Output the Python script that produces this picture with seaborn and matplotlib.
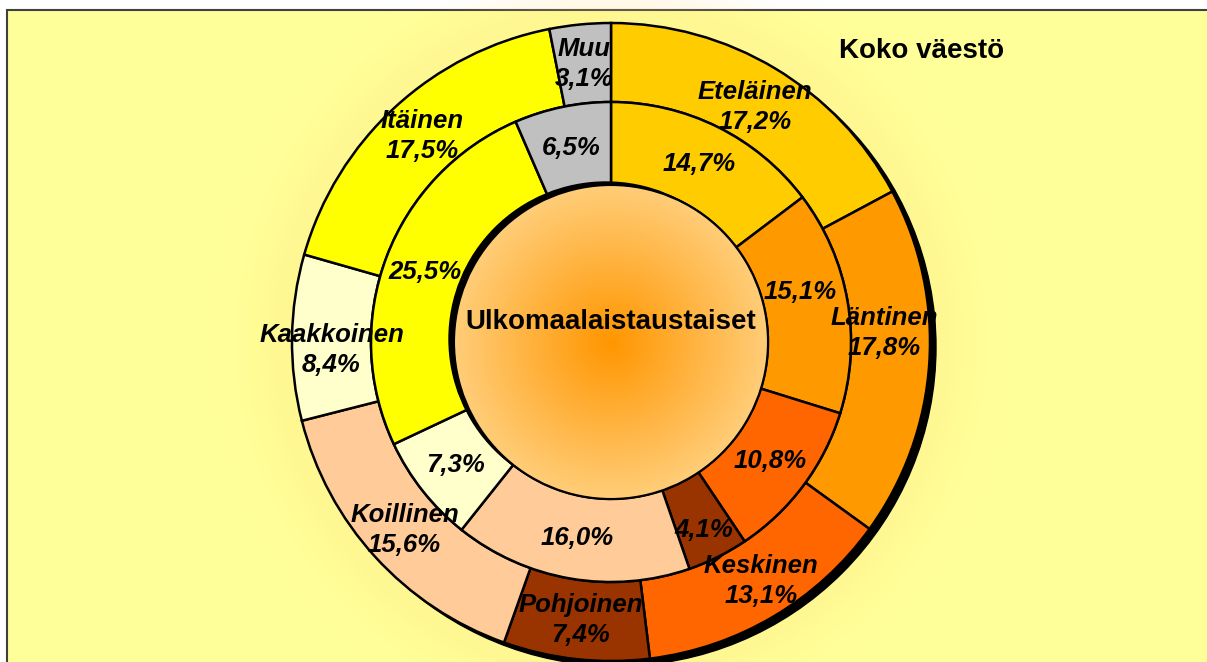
import numpy as np
import matplotlib.pyplot as plt
import matplotlib.patches as mpatches
import seaborn as sns

# data
regions = ["Eteläinen", "Läntinen", "Keskinen", "Pohjoinen",
           "Koillinen", "Kaakkoinen", "Itäinen", "Muu"]
koko_vaesto = [17.2, 17.8, 13.1, 7.4, 15.6, 8.4, 17.5, 3.1]
ulkomaalais = [14.7, 15.1, 10.8, 4.1, 16.0, 7.3, 25.5, 6.5]
region_colors = ["#FFCC00", "#FF9900", "#FF6600", "#993300",
                 "#FFCC99", "#FFFFCC", "#FFFF00", "#C0C0C0"]

sns.set_style("white")
plt.rcParams["font.family"] = ["Liberation Sans", "DejaVu Sans"]
plt.rcParams["text.color"] = "black"
palette = sns.color_palette(region_colors)

W, H = 1207, 662
fig = plt.figure(figsize=(W / 100, H / 100), dpi=100)
ax = fig.add_axes([0, 0, 1, 1])

cx, cy = 611, H - 342
r_out, r_mid, r_in = 319, 240, 157

# small label nudges (pixels) as placed in the original
outer_nudge = {"Läntinen": (-6, 28), "Kaakkoinen": (0, -12), "Keskinen": (8, 2),
               "Eteläinen": (0, -5)}
inner_nudge = {"Läntinen": (-6, 16), "Pohjoinen": (4, -10)}


def pct(v):
    return f"{v:.1f}".replace(".", ",") + "%"


# shadow under outer ring
ax.add_patch(mpatches.Circle((cx + 6, cy - 5), r_out, color="black", zorder=1))

wedge_kw = dict(edgecolor="black", linewidth=1.8)
outer, _ = ax.pie(koko_vaesto, colors=palette, startangle=90, counterclock=False,
                  radius=r_out, center=(cx, cy),
                  wedgeprops=dict(width=r_out - r_mid, **wedge_kw))
inner, _ = ax.pie(ulkomaalais, colors=palette, startangle=90, counterclock=False,
                  radius=r_mid, center=(cx, cy),
                  wedgeprops=dict(width=r_mid - r_in, **wedge_kw))
for w in outer + inner:
    w.set_zorder(2)

# centre disc with radial gradient and shadow
ax.add_patch(mpatches.Circle((cx - 5, cy + 3), r_in, color="black", zorder=3))
disc = mpatches.Circle((cx, cy), r_in, facecolor="none", edgecolor="black",
                       linewidth=1.5, zorder=5)
ax.add_patch(disc)
n = 300
gx, gy = np.meshgrid(np.linspace(-1, 1, n), np.linspace(-1, 1, n))
t = np.clip(np.hypot(gx, gy), 0, 1)
c0 = np.array([255, 150, 0]) / 255
c1 = np.array([255, 205, 120]) / 255
grad = c0[None, None, :] * (1 - t[..., None]) + c1[None, None, :] * t[..., None]
im = ax.imshow(grad, extent=(cx - r_in, cx + r_in, cy - r_in, cy + r_in),
               origin="lower", zorder=4, interpolation="bilinear")
im.set_clip_path(disc)

# soft halo round the pie
hx, hy = np.meshgrid(np.arange(W), np.arange(H))
rr = np.hypot(hx - cx, hy - cy)
alpha = np.where(rr > r_out - 5, 0.2 * np.exp(-((rr - r_out) / 40.0) ** 2), 0)
halo = np.zeros((H, W, 4))
halo[..., 0], halo[..., 1], halo[..., 2] = 1.0, 0.85, 0.45
halo[..., 3] = alpha
ax.imshow(halo, extent=(0, W, 0, H), origin="lower", zorder=0.5)

# frame
ax.add_patch(mpatches.Rectangle((7, -20), W + 20, H - 10 + 20, facecolor="#FFFF99",
                                edgecolor="#404040", linewidth=1.5, zorder=0))

lab_kw = dict(ha="center", va="center", fontsize=18.5, fontweight="bold",
              fontstyle="italic", zorder=6, linespacing=1.32, color="black")
r_lab_out = (r_out + r_mid) / 2
for w, name, v in zip(outer, regions, koko_vaesto):
    a = np.deg2rad((w.theta1 + w.theta2) / 2)
    dx, dy = outer_nudge.get(name, (0, 0))
    ax.text(cx + r_lab_out * np.cos(a) + dx, cy + r_lab_out * np.sin(a) + dy,
            f"{name}\n{pct(v)}", **lab_kw)
r_lab_in = (r_mid + r_in) / 2
for w, name, v in zip(inner, regions, ulkomaalais):
    a = np.deg2rad((w.theta1 + w.theta2) / 2)
    dx, dy = inner_nudge.get(name, (0, 0))
    ax.text(cx + r_lab_in * np.cos(a) + dx, cy + r_lab_in * np.sin(a) + dy,
            pct(v), **lab_kw)

ax.text(cx, cy + 20, "Ulkomaalaistaustaiset", ha="center", va="center",
        fontsize=20, fontweight="bold", zorder=6, color="black")
ax.text(922, H - 51, "Koko väestö", ha="center", va="center",
        fontsize=20, fontweight="bold", zorder=6, color="black")

ax.set_xlim(0, W)
ax.set_ylim(0, H)
ax.set_aspect("equal")
ax.axis("off")
fig.savefig("out.png", dpi=100, facecolor="white")
